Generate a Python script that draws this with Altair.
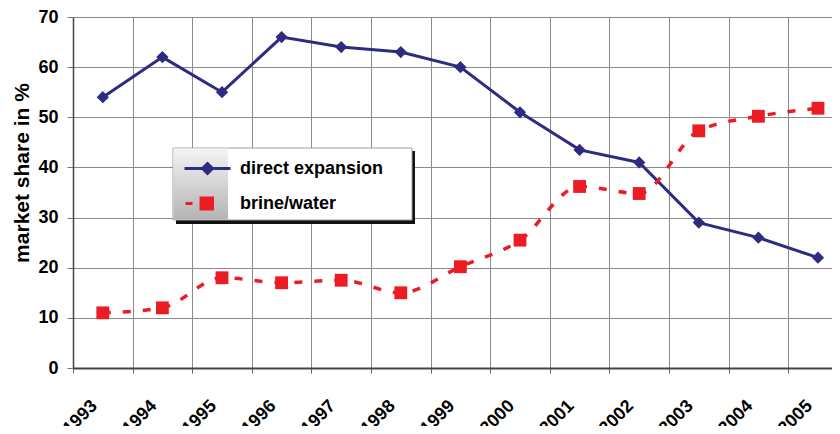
import altair as alt
import pandas as pd

# ---- data ----
years = ["1993", "1994", "1995", "1996", "1997", "1998", "1999",
         "2000", "2001", "2002", "2003", "2004", "2005"]
direct_expansion = [54, 62, 55, 66, 64, 63, 60, 51, 43.5, 41, 29, 26, 22]
brine_water = [11, 12, 18, 17, 17.5, 15, 20.2, 25.5, 36.2, 34.8, 47.3, 50.2, 51.8]
series_names = ["direct expansion", "brine/water"]
series_colors = ["#2d2c80", "#ec1c24"]
y_ticks = [0, 10, 20, 30, 40, 50, 60, 70]

FONT = "Liberation Sans"

rows = []
for i, yr in enumerate(years):
    rows.append({"series": series_names[0], "year": yr, "pos": i + 0.5, "value": direct_expansion[i]})
    rows.append({"series": series_names[1], "year": yr, "pos": i + 0.5, "value": brine_water[i]})
df = pd.DataFrame(rows)

label_expr = "[" + ",".join("'%s'" % y for y in years) + "][datum.value]"

x_axis = alt.Axis(
    values=list(range(len(years))), labelExpr=label_expr, title=None,
    labelAngle=315, labelAlign="right", labelBaseline="middle",
    labelOffset=21, labelPadding=30, tickSize=5, tickColor="#666666",
    grid=True, gridColor="#8a8a8a", gridWidth=1,
    domainColor="#444444", domainWidth=2,
    labelFont=FONT, labelFontSize=18, labelFontWeight="bold", labelColor="black",
    labelFlush=False, labelOverlap=False,
)
y_axis = alt.Axis(
    values=y_ticks, title="market share in %", grid=True,
    gridColor="#8a8a8a", gridWidth=1, tickSize=6, tickColor="#777777",
    domainColor="#444444", domainWidth=1.5, labelPadding=9,
    labelFont=FONT, labelFontSize=18, labelFontWeight="bold", labelColor="black",
    titleFont=FONT, titleFontSize=21, titleFontWeight="bold", titleColor="black",
    titleX=-45, titleY=155.5, titleBaseline="alphabetic", titleAlign="center",
)
x_scale = alt.Scale(domain=[0, 12.735], nice=False, zero=False)
y_scale = alt.Scale(domain=[0, 70], nice=False)


def xe():
    return alt.X("pos:Q", scale=x_scale, axis=x_axis)


def ye():
    return alt.Y("value:Q", scale=y_scale, axis=y_axis)


base = alt.Chart(df)

direct_line = base.transform_filter(alt.datum.series == series_names[0]).mark_line(
    color=series_colors[0], strokeWidth=3
).encode(x=xe(), y=ye())

brine_line = base.transform_filter(alt.datum.series == series_names[1]).mark_line(
    color=series_colors[1], strokeWidth=3.5, strokeDash=[8, 12], interpolate="monotone"
).encode(x=xe(), y=ye())

direct_pts = base.transform_filter(alt.datum.series == series_names[0]).mark_point(
    shape="diamond", filled=True, size=150, color=series_colors[0], opacity=1
).encode(x=xe(), y=ye())

brine_pts = base.transform_filter(alt.datum.series == series_names[1]).mark_point(
    shape="square", filled=True, size=165, color=series_colors[1], opacity=1
).encode(x=xe(), y=ye())

# legend box decoration (background, gradient panel, shadow)
deco = pd.DataFrame({"k": [0]})
shadow = alt.Chart(deco).mark_rect(color="#111111").encode(
    x=alt.value(103), x2=alt.value(342), y=alt.value(134), y2=alt.value(207))
box = alt.Chart(deco).mark_rect(fill="white", stroke="#a0a0a0", strokeWidth=1).encode(
    x=alt.value(100), x2=alt.value(339), y=alt.value(131), y2=alt.value(203))
grad = alt.Chart(deco).mark_rect(
    color=alt.LinearGradient(
        gradient="linear", x1=0, x2=0, y1=0, y2=1,
        stops=[alt.GradientStop(color="#f4f4f4", offset=0),
               alt.GradientStop(color="#b4b4b4", offset=1)],
    )
).encode(x=alt.value(100.5), x2=alt.value(155), y=alt.value(131.5), y2=alt.value(202.5))

legend_paths = [
    "M-1,0L3.6,0M1.3,-0.5L1.8,0L1.3,0.5L0.8,0Z",
    "M-0.9,0L-0.2,0M0.65,-0.55L1.8,-0.55L1.8,0.55L0.65,0.55Z",
]
leg = alt.Legend(
    orient="none", legendX=110, legendY=140, title=None, padding=0,
    labelFont=FONT, labelFontSize=18, labelFontWeight="bold", labelColor="black",
    labelOffset=34, labelLimit=300, rowPadding=12, symbolSize=400,
    symbolStrokeWidth=3, symbolOpacity=1,
)
legend_layer = base.transform_filter("false").mark_point(filled=True, strokeWidth=3, opacity=1).encode(
    x=xe(), y=ye(),
    fill=alt.Fill("series:N", scale=alt.Scale(domain=series_names, range=series_colors), legend=leg),
    stroke=alt.Stroke("series:N", scale=alt.Scale(domain=series_names, range=series_colors), legend=leg),
    shape=alt.Shape("series:N", scale=alt.Scale(domain=series_names, range=legend_paths), legend=leg),
)

chart = alt.layer(
    direct_line, shadow, box, grad, brine_line, direct_pts, brine_pts, legend_layer
).properties(
    width=759, height=351,
    autosize=alt.AutoSizeParams(type="none"),
    padding={"left": 65, "top": 9, "right": 0, "bottom": 58},
    background="white",
).configure_view(stroke=None)

chart.save("out.html", embed_options={"renderer": "svg", "actions": False})
